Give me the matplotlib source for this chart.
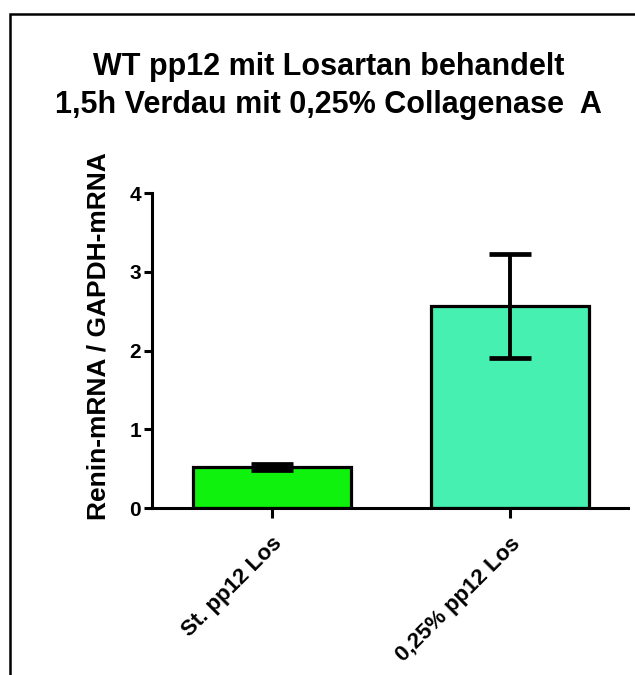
import numpy as np
import matplotlib
matplotlib.use('Agg')
import matplotlib.pyplot as plt
from matplotlib.patches import Rectangle

# values
groups = ['St. pp12 Los', '0,25% pp12 Los']
means = [0.52, 2.57]
errors = [0.04, 0.66]
colors = ['#0ef20e', '#45f0b0']
y_ticks = [0, 1, 2, 3, 4]

plt.rcParams['font.family'] = ['Liberation Sans', 'DejaVu Sans']

fig = plt.figure(figsize=(6.35, 6.75), dpi=100)
ax = fig.add_axes([0.2394, 0.2474, 0.7496, 0.4666])

x = np.arange(len(groups))
ax.bar(x, means, width=0.66, color=colors, edgecolor='black', linewidth=2.3, zorder=2)
ax.errorbar(x, means, yerr=errors, fmt='none', ecolor='black', elinewidth=2.8,
            capsize=15, capthick=3.4, zorder=3)

ax.set_xlim(-0.504, 1.496)
ax.set_ylim(0, 4)
ax.set_yticks(y_ticks)
ax.set_yticklabels([str(t) for t in y_ticks], fontsize=15, fontweight='bold')
ax.set_xticks(x)
ax.set_xticklabels(groups, rotation=45, ha='right', rotation_mode='anchor',
                   fontsize=16, fontweight='bold')

for side in ['top', 'right']:
    ax.spines[side].set_visible(False)
ax.spines['left'].set_linewidth(2.2)
ax.spines['bottom'].set_linewidth(2.2)
ax.tick_params(axis='y', width=2.2, length=6, pad=2)
ax.tick_params(axis='x', width=2.2, length=7, pad=11)

fig.text(99 / 635, 1 - 336 / 675, 'Renin-mRNA / GAPDH-mRNA', rotation=90,
         ha='center', va='center', fontsize=19, fontweight='bold')

fig.text(0.518, 1 - 67 / 675, 'WT pp12 mit Losartan behandelt', ha='center', va='center',
         fontsize=22, fontweight='bold')
fig.text(0.518, 1 - 105 / 675, '1,5h Verdau mit 0,25% Collagenase  A', ha='center', va='center',
         fontsize=22, fontweight='bold')

# outer frame (cut off at right and bottom in the reference)
fig.patches.append(Rectangle((0.015, -0.1), 1.2, 1.079, transform=fig.transFigure,
                             fill=False, edgecolor='black', linewidth=1.8))

fig.savefig('out.png', dpi=100)
